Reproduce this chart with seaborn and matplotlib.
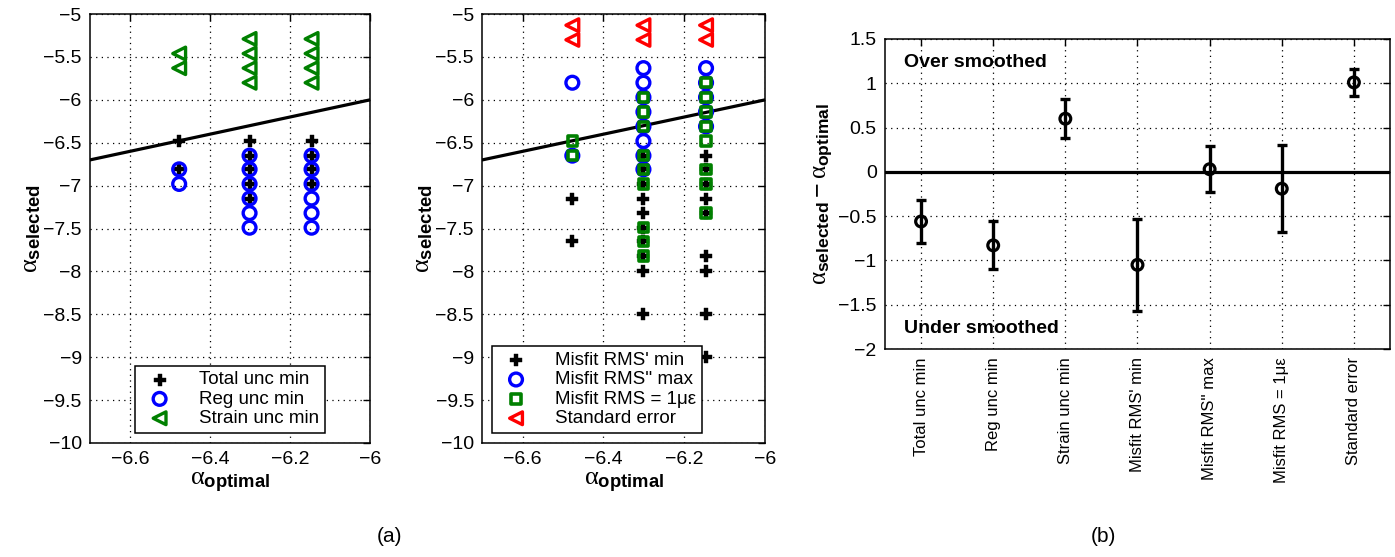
import numpy as np
import pandas as pd
import matplotlib
matplotlib.use("Agg")
import matplotlib.pyplot as plt
from matplotlib.ticker import FuncFormatter, MultipleLocator
import seaborn as sns

# ---------------- data ----------------
alpha_optimal = [-6.477, -6.301, -6.146]

# panel (a) left
total_unc_min = [[-6.48, -6.81],
                 [-6.48, -6.65, -6.81, -6.98, -7.15],
                 [-6.48, -6.65, -6.81, -6.98]]
reg_unc_min = [[-6.81, -6.98],
               [-6.65, -6.81, -6.98, -7.15, -7.32, -7.49],
               [-6.65, -6.81, -6.98, -7.15, -7.32, -7.49]]
strain_unc_min = [[-5.46, -5.63],
                  [-5.29, -5.46, -5.63, -5.80],
                  [-5.29, -5.46, -5.63, -5.80]]

# panel (a) middle
misfit_rms_min = [[-7.15, -7.65],
                  [-6.65, -6.81, -6.98, -7.15, -7.32, -7.49, -7.65, -7.82, -8.0, -8.5],
                  [-6.65, -6.81, -6.98, -7.15, -7.32, -7.82, -8.0, -8.5, -9.0]]
misfit_rms_max = [[-5.80, -6.65],
                  [-5.63, -5.80, -5.97, -6.14, -6.31, -6.48, -6.65, -6.81],
                  [-5.63, -5.80, -5.97, -6.14, -6.31]]
misfit_rms_1ue = [[-6.48, -6.65],
                  [-5.97, -6.14, -6.31, -6.65, -6.81, -6.98, -7.49, -7.65, -7.82],
                  [-5.80, -5.97, -6.14, -6.31, -6.48, -6.81, -6.98, -7.32]]
standard_error = [[-5.13, -5.30],
                  [-5.13, -5.30],
                  [-5.13, -5.30]]

# panel (b)
methods = ["Total unc min", "Reg unc min", "Strain unc min", "Misfit RMS' min",
           "Misfit RMS'' max", "Misfit RMS = 1\u03bc\u03b5", "Standard error"]
mean_diff = [-0.56, -0.83, 0.60, -1.05, 0.03, -0.19, 1.01]
err_diff = [0.24, 0.27, 0.22, 0.52, 0.26, 0.49, 0.155]

# ---------------- style ----------------
sns.set_style("white")
plt.rcParams["font.family"] = ["Liberation Sans", "DejaVu Sans"]
plt.rcParams["mathtext.fontset"] = "custom"
plt.rcParams["mathtext.rm"] = "Liberation Sans"
plt.rcParams["mathtext.bf"] = "Liberation Sans:bold"
plt.rcParams["mathtext.it"] = "Liberation Serif"
plt.rcParams["axes.linewidth"] = 1.1
for key in ["text.color", "axes.labelcolor", "xtick.color", "ytick.color", "axes.edgecolor"]:
    plt.rcParams[key] = "black"

BLUE = "#0000ff"
GREEN = "#008000"
RED = "#ff0000"


def to_long(cols):
    xs, ys = [], []
    for xv, col in zip(alpha_optimal, cols):
        for yv in col:
            xs.append(xv)
            ys.append(yv)
    return pd.DataFrame({"x": xs, "y": ys})


def fmt(v, pos):
    return ("%g" % v).replace("-", "\u2212")


def style_axes(ax, size=14):
    ax.tick_params(direction="in", top=True, right=True, length=5, width=1.0,
                   labelsize=size, pad=6, colors="black")
    ax.grid(True, color="black", linestyle=(0, (1, 3.5)), linewidth=0.9)
    for s in ax.spines.values():
        s.set_visible(True)
        s.set_color("black")
        s.set_linewidth(1.1)


fig = plt.figure(figsize=(13.95, 5.57), dpi=100)
axL = fig.add_axes([0.0645, 0.2047, 0.2007, 0.770])
axM = fig.add_axes([0.3457, 0.2047, 0.2027, 0.770])
axR = fig.add_axes([0.6344, 0.3734, 0.3620, 0.5566])

plus_kw = dict(marker="P", s=70, color="black", edgecolor="black", linewidth=0.3, zorder=3)
circ_kw = dict(marker="o", s=85, color=BLUE, facecolor="none", edgecolor=BLUE, linewidth=2.4, zorder=4)
sq_kw = dict(marker="s", s=45, color=GREEN, facecolor="none", edgecolor=GREEN, linewidth=2.6, zorder=5)


def tri_kw(c):
    return dict(marker="<", s=85, color=c, facecolor="none", edgecolor=c, linewidth=2.4, zorder=6)


for ax in (axL, axM):
    ax.plot([-6.7, -6.0], [-6.7, -6.0], color="black", lw=2.3, zorder=2)

# left panel
d = to_long(total_unc_min)
sns.scatterplot(data=d, x="x", y="y", ax=axL, label="Total unc min", **plus_kw)
d = to_long(reg_unc_min)
sns.scatterplot(data=d, x="x", y="y", ax=axL, label="Reg unc min", **circ_kw)
d = to_long(strain_unc_min)
sns.scatterplot(data=d, x="x", y="y", ax=axL, label="Strain unc min", **tri_kw(GREEN))

# middle panel
d = to_long(misfit_rms_min)
sns.scatterplot(data=d, x="x", y="y", ax=axM, label="Misfit RMS' min", **plus_kw)
d = to_long(misfit_rms_max)
sns.scatterplot(data=d, x="x", y="y", ax=axM, label="Misfit RMS'' max", **circ_kw)
d = to_long(misfit_rms_1ue)
sns.scatterplot(data=d, x="x", y="y", ax=axM, label="Misfit RMS = 1\u03bc\u03b5", **sq_kw)
d = to_long(standard_error)
sns.scatterplot(data=d, x="x", y="y", ax=axM, label="Standard error", **tri_kw(RED))

for ax in (axL, axM):
    ax.set_xlim(-6.7, -6.0)
    ax.set_ylim(-10, -5)
    ax.yaxis.set_major_locator(MultipleLocator(0.5))
    ax.set_xticks([-6.6, -6.4, -6.2, -6.0])
    ax.xaxis.set_major_formatter(FuncFormatter(fmt))
    ax.yaxis.set_major_formatter(FuncFormatter(fmt))
    style_axes(ax)
    ax.set_xlabel(r"$\alpha_{\mathbf{optimal}}$", fontsize=19, labelpad=2)
    ax.set_ylabel(r"$\alpha_{\mathbf{selected}}$", fontsize=19, labelpad=0)

legL = axL.legend(loc="lower center", bbox_to_anchor=(0.5, 0.015), fontsize=13.5,
                  frameon=True, fancybox=False, edgecolor="black", framealpha=1,
                  borderpad=0.3, labelspacing=0.12, handletextpad=1.1,
                  scatterpoints=1, borderaxespad=0.2)
legL.get_frame().set_linewidth(1.1)
legM = axM.legend(loc="lower left", bbox_to_anchor=(0.02, 0.015), fontsize=13.5,
                  frameon=True, fancybox=False, edgecolor="black", framealpha=1,
                  borderpad=0.3, labelspacing=0.12, handletextpad=1.1,
                  scatterpoints=1, borderaxespad=0.2)
legM.get_frame().set_linewidth(1.1)

# right panel
xpos = np.arange(1, len(methods) + 1)
axR.axhline(0, color="black", lw=2.3, zorder=2)
axR.errorbar(xpos, mean_diff, yerr=err_diff, fmt="none", ecolor="black",
             elinewidth=2.4, capsize=3.5, capthick=2.4, zorder=3)
dR = pd.DataFrame({"x": xpos, "y": mean_diff})
sns.scatterplot(data=dR, x="x", y="y", ax=axR, marker="o", s=60, color="black",
                facecolor="none", edgecolor="black", linewidth=2.3, zorder=4)
axR.set_xlim(0.5, 7.5)
axR.set_ylim(-2, 1.5)
axR.set_xticks(xpos)
axR.set_xticklabels(methods, rotation=90)
axR.yaxis.set_major_locator(MultipleLocator(0.5))
axR.yaxis.set_major_formatter(FuncFormatter(fmt))
style_axes(axR)
axR.tick_params(axis="x", labelsize=12)
axR.set_xlabel("")
axR.set_ylabel(r"$\alpha_{\mathbf{selected}} - \alpha_{\mathbf{optimal}}$", fontsize=18, labelpad=2)
axR.text(0.76, 1.24, "Over smoothed", fontsize=14, fontweight="bold", va="center", ha="left")
axR.text(0.76, -1.77, "Under smoothed", fontsize=14, fontweight="bold", va="center", ha="left")

fig.text(0.279, 0.036, "(a)", fontsize=15, ha="center", va="center")
fig.text(0.791, 0.036, "(b)", fontsize=15, ha="center", va="center")

fig.savefig("out.png", dpi=100)
